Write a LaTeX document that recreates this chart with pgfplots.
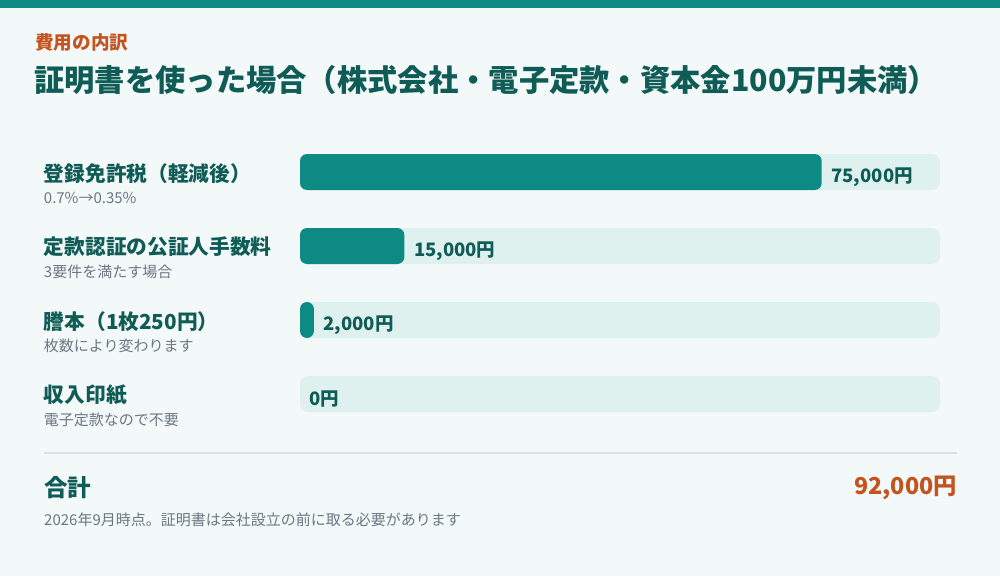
\documentclass[border=0pt]{standalone}
\usepackage{pgfplots}
\pgfplotsset{compat=1.18}
\usepackage{fontspec}
\setmainfont{Noto Sans CJK JP}
\definecolor{bgc}{HTML}{F3F8F8}
\definecolor{barc}{HTML}{0E8A84}
\definecolor{trackc}{HTML}{DFF1EF}
\definecolor{darkc}{HTML}{0F5C57}
\definecolor{orangec}{HTML}{C4531E}
\definecolor{grayc}{HTML}{6B7785}
\definecolor{linec}{HTML}{D8E0E4}
\begin{document}
\begin{tikzpicture}
\fill[bgc] (0pt,0pt) rectangle (1000pt,576pt);
\fill[barc] (0pt,568pt) rectangle (1000pt,576pt);
\node[anchor=west,inner sep=0pt,text=orangec,font=\fontsize{18.6}{20}\selectfont\bfseries] at (35pt,534pt) {費用の内訳};
\node[anchor=west,inner sep=0pt,text=darkc,font=\fontsize{30.3}{32}\selectfont\bfseries] at (34pt,496pt) {証明書を使った場合（株式会社・電子定款・資本金100万円未満）};
\begin{axis}[
  at={(300pt,441pt)}, anchor=north west,
  scale only axis, width=640pt, height=296pt,
  xmin=0, xmax=92000, ymin=-0.5, ymax=3.5, y dir=reverse,
  axis line style={draw=none}, tick style={draw=none},
  xtick=\empty, ytick={0,1,2,3},
  yticklabels={
    {{\fontsize{20.7}{20}\selectfont\bfseries\color{darkc}登録免許税（軽減後）}\\{\color{grayc}0.7\%→0.35\%}},
    {{\fontsize{20.7}{20}\selectfont\bfseries\color{darkc}定款認証の公証人手数料}\\{\color{grayc}3要件を満たす場合}},
    {{\fontsize{20.7}{20}\selectfont\bfseries\color{darkc}謄本（1枚250円）}\\{\color{grayc}枚数により変わります}},
    {{\fontsize{20.7}{20}\selectfont\bfseries\color{darkc}収入印紙}\\{\color{grayc}電子定款なので不要}}},
  yticklabel style={anchor=north west, inner sep=0pt, xshift=-252pt, yshift=9pt, align=left, font=\fontsize{15}{22.5}\selectfont},
  xbar, bar width=36pt, bar shift=0pt,
  clip=false,
]
\addplot[draw=none, fill=trackc, rounded corners=8pt] coordinates {(92000,0) (92000,1) (92000,2) (92000,3)};
\addplot[draw=none, fill=barc, rounded corners=7pt] coordinates {(75000,0) (15000,1) (2000,2)};
\addplot[draw=none, fill=none, point meta=x,
  nodes near coords={\pgfmathprintnumber[fixed,precision=0,1000 sep={,},assume math mode=true]{\pgfplotspointmeta}円},
  nodes near coords style={anchor=west, inner sep=0pt, xshift=9.5pt, yshift=-5pt, text=darkc, font=\fontsize{18.5}{20}\selectfont\bfseries}]
  coordinates {(75000,0) (15000,1) (2000,2) (0,3)};
\end{axis}
\draw[linec, line width=2pt] (44pt,123pt) -- (957pt,123pt);
\node[anchor=west,inner sep=0pt,text=darkc,font=\fontsize{23.5}{26}\selectfont\bfseries] at (44pt,88pt) {合計};
\node[anchor=east,inner sep=0pt,text=orangec,font=\fontsize{23.3}{26}\selectfont\bfseries] at (957pt,88pt) {92,000円};
\node[anchor=west,inner sep=0pt,text=grayc,font=\fontsize{15}{16}\selectfont] at (44pt,56pt) {2026年9月時点。証明書は会社設立の前に取る必要があります};
\pgfresetboundingbox
\path (0pt,0pt) rectangle (1000pt,576pt);
\end{tikzpicture}
\end{document}
